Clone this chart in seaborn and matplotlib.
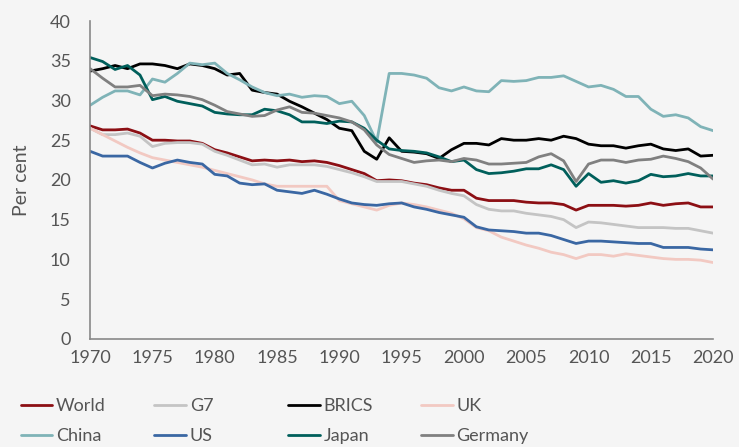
import pandas as pd
import matplotlib.pyplot as plt
import seaborn as sns

# Data
years = list(range(1970, 2021))

world = [26.8, 26.3, 26.3, 26.4, 25.9, 25.0, 25.0, 24.9, 24.9, 24.6,
         23.8, 23.4, 22.9, 22.4, 22.5, 22.4, 22.5, 22.3, 22.4, 22.2,
         21.8, 21.3, 20.8, 19.9, 20.0, 19.9, 19.6, 19.4, 19.0, 18.7,
         18.7, 17.7, 17.4, 17.4, 17.4, 17.2, 17.1, 17.1, 16.9, 16.2,
         16.8, 16.8, 16.8, 16.7, 16.8, 17.1, 16.8, 17.0, 17.1, 16.6,
         16.6]
g7 = [26.5, 25.7, 25.7, 25.9, 25.5, 24.2, 24.6, 24.7, 24.7, 24.5,
      23.6, 23.1, 22.5, 21.9, 22.0, 21.6, 21.9, 21.9, 21.9, 21.7,
      21.3, 20.9, 20.4, 19.8, 19.8, 19.8, 19.5, 19.2, 18.7, 18.3,
      18.0, 16.9, 16.3, 16.1, 16.1, 15.8, 15.6, 15.4, 15.0, 14.0,
      14.7, 14.6, 14.4, 14.2, 14.0, 14.0, 14.0, 13.9, 13.9, 13.6,
      13.3]
brics = [33.7, 34.0, 34.4, 34.0, 34.6, 34.6, 34.4, 34.0, 34.6, 34.4,
         34.0, 33.2, 33.4, 31.3, 31.0, 30.8, 29.9, 29.2, 28.4, 27.6,
         26.5, 26.2, 23.6, 22.6, 25.3, 23.6, 23.5, 23.3, 22.7, 23.8,
         24.6, 24.6, 24.4, 25.2, 25.0, 25.0, 25.2, 25.0, 25.5, 25.2,
         24.5, 24.3, 24.3, 24.0, 24.3, 24.5, 23.9, 23.7, 23.9, 23.0,
         23.1]
uk = [26.5, 25.7, 24.9, 24.1, 23.4, 22.8, 22.5, 22.2, 21.9, 21.6,
      21.2, 20.8, 20.4, 20.0, 19.5, 19.2, 19.2, 19.2, 19.2, 19.2,
      17.4, 17.0, 16.6, 16.2, 16.8, 17.1, 16.9, 16.6, 16.2, 15.8,
      15.1, 14.0, 13.6, 12.8, 12.3, 11.8, 11.4, 10.9, 10.6, 10.1,
      10.6, 10.6, 10.4, 10.7, 10.5, 10.3, 10.1, 10.0, 10.0, 9.9,
      9.6]
china = [29.4, 30.4, 31.2, 31.2, 30.7, 32.7, 32.3, 33.4, 34.7, 34.5,
         34.7, 33.4, 32.6, 31.7, 31.0, 30.6, 30.8, 30.4, 30.6, 30.5,
         29.6, 29.9, 28.1, 24.8, 33.4, 33.4, 33.2, 32.8, 31.6, 31.2,
         31.7, 31.2, 31.1, 32.5, 32.4, 32.5, 32.9, 32.9, 33.1, 32.4,
         31.7, 31.9, 31.4, 30.5, 30.5, 28.9, 28.0, 28.2, 27.8, 26.7,
         26.2]
us = [23.6, 23.0, 23.0, 23.0, 22.2, 21.5, 22.1, 22.5, 22.2, 22.0,
      20.7, 20.5, 19.6, 19.4, 19.5, 18.7, 18.5, 18.3, 18.7, 18.2,
      17.6, 17.1, 16.9, 16.8, 17.0, 17.1, 16.6, 16.3, 15.9, 15.6,
      15.3, 14.1, 13.7, 13.6, 13.5, 13.3, 13.3, 13.0, 12.5, 12.0,
      12.3, 12.3, 12.2, 12.1, 12.0, 12.0, 11.5, 11.5, 11.5, 11.3,
      11.2]
japan = [35.4, 34.9, 33.9, 34.4, 33.2, 30.1, 30.5, 29.9, 29.6, 29.3,
         28.5, 28.3, 28.2, 28.2, 28.9, 28.7, 28.2, 27.3, 27.3, 27.1,
         27.4, 27.3, 26.5, 25.0, 23.9, 23.7, 23.6, 23.4, 22.9, 22.3,
         22.5, 21.3, 20.8, 20.9, 21.1, 21.4, 21.4, 21.9, 21.3, 19.2,
         20.8, 19.7, 19.9, 19.6, 19.9, 20.7, 20.4, 20.5, 20.8, 20.5,
         20.5]
germany = [34.0, 32.8, 31.7, 31.7, 31.9, 30.6, 30.8, 30.7, 30.5, 30.1,
           29.4, 28.6, 28.3, 28.0, 28.1, 28.8, 29.2, 28.5, 28.4, 28.1,
           27.8, 27.3, 26.3, 24.4, 23.2, 22.7, 22.2, 22.4, 22.5, 22.3,
           22.7, 22.5, 22.0, 22.0, 22.1, 22.2, 22.9, 23.3, 22.4, 19.8,
           22.0, 22.5, 22.5, 22.2, 22.5, 22.6, 23.0, 22.7, 22.3, 21.5,
           20.1]

series = {
    "World": world, "G7": g7, "BRICS": brics, "UK": uk,
    "China": china, "US": us, "Japan": japan, "Germany": germany,
}
colors = {
    "World": "#8c0f14", "G7": "#c4c4c4", "BRICS": "#000000", "UK": "#f2c9c2",
    "China": "#7fb3b7", "US": "#3a67a3", "Japan": "#005f5b", "Germany": "#808080",
}

df = pd.DataFrame({"year": years, **series})
long = df.melt(id_vars="year", var_name="series", value_name="value")

bg = "#f5f5f5"
text_col = "#555555"
sns.set_style("white")
plt.rcParams["font.family"] = ["Lato", "DejaVu Sans"]

fig, ax = plt.subplots(figsize=(7.39, 4.47), dpi=100)
fig.patch.set_facecolor(bg)
ax.set_facecolor(bg)

sns.lineplot(data=long, x="year", y="value", hue="series",
             hue_order=list(series.keys()), palette=colors,
             linewidth=2, ax=ax, legend=False)

ax.set_xlim(1970, 2020)
ax.set_ylim(0, 40)
ax.set_xticks(range(1970, 2021, 5))
ax.set_yticks(range(0, 41, 5))
ax.set_xlabel("")
ax.set_ylabel("Per cent", fontsize=14, color=text_col, labelpad=14)

for s in ["top", "right"]:
    ax.spines[s].set_visible(False)
for s in ["left", "bottom"]:
    ax.spines[s].set_color("#888888")
    ax.spines[s].set_linewidth(1.2)
ax.tick_params(axis="x", direction="out", length=6, color="#888888",
               labelsize=13, labelcolor=text_col, pad=2)
ax.tick_params(axis="y", direction="in", length=5, color="#888888",
               labelsize=13, labelcolor=text_col, pad=14)

# legend: one small legend per column so the columns are evenly spaced
columns = [["World", "China"], ["G7", "US"], ["BRICS", "Japan"], ["UK", "Germany"]]
col_x = [0.028, 0.209, 0.390, 0.570]
for names, x0 in zip(columns, col_x):
    handles = [plt.Line2D([], [], color=colors[n], lw=2) for n in names]
    fig.legend(handles, names, loc="lower left", bbox_to_anchor=(x0, 0.006),
               frameon=False, fontsize=13, labelcolor=text_col,
               handlelength=1.75, handletextpad=0.2, labelspacing=0.78,
               borderpad=0, borderaxespad=0)

fig.subplots_adjust(left=0.122, right=0.965, bottom=0.242, top=0.953)
fig.savefig("out.png", dpi=100, facecolor=bg)
